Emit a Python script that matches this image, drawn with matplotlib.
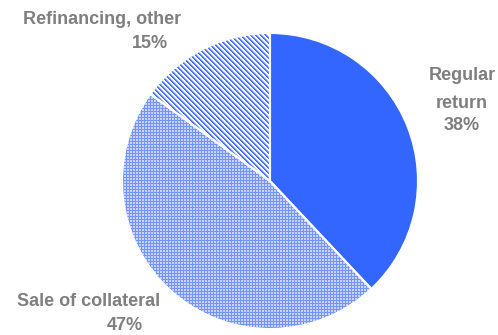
import matplotlib
matplotlib.use("Agg")
import matplotlib.pyplot as plt
import numpy as np
from matplotlib.colors import to_rgba

categories = ["Regular\nreturn", "Sale of collateral", "Refinancing, other"]
values = [38, 47, 15]
pct_labels = ["38%", "47%", "15%"]

plt.rcParams['font.family'] = ['Liberation Sans', 'DejaVu Sans']

W, H = 498, 335
fig = plt.figure(figsize=(W / 100, H / 100), dpi=100)
ax = fig.add_axes([0, 0, 1, 1])
ax.set_xlim(0, W)
ax.set_ylim(0, H)
ax.set_aspect('equal')
ax.axis('off')

cx, cy, r = 270, H - 181, 148

faces = ['#3366FF', '#A6B9FF', 'white']
wedges, _ = ax.pie(values, center=(cx, cy), radius=r, startangle=90, counterclock=False,
                   colors=faces, wedgeprops=dict(edgecolor='none', linewidth=0), frame=True)

# pixel textures
rr, cc = np.mgrid[0:H, 0:W]
# dotted grid for "Sale of collateral"
grid = np.zeros((H, W, 4))
line_c = np.array(to_rgba('#7394FF'))
fill_c = np.array(to_rgba('#C8D3FF'))
mask_line = (rr % 3 == 0) | (cc % 3 == 0)
grid[mask_line] = line_c
grid[~mask_line] = fill_c
im1 = ax.imshow(grid, extent=(0, W, 0, H), origin='upper', interpolation='nearest', zorder=2)
im1.set_clip_path(wedges[1])

# diagonal stripes for "Refinancing, other"
stripes = np.zeros((H, W, 4))
k = (cc - rr) % 5
stripes[:] = to_rgba('white')
stripes[k == 0] = to_rgba('#3F6EFF')
stripes[k == 1] = to_rgba('#5A82FF')
stripes[k == 2] = to_rgba('#B8C8FF')
im2 = ax.imshow(stripes, extent=(0, W, 0, H), origin='upper', interpolation='nearest', zorder=2)
im2.set_clip_path(wedges[2])

bw, _ = ax.pie(values, center=(cx, cy), radius=r, startangle=90, counterclock=False,
               colors=['none'] * 3, wedgeprops=dict(edgecolor='white', linewidth=1.5, zorder=3),
               frame=True)
for w in bw:
    w.set_facecolor('none')

ax.set_xlim(0, W)
ax.set_ylim(0, H)
ax.axis('off')

tc = '#7F7F7F'
fs = 13
def T(x, y, s):
    ax.text(x, H - y, s, ha='center', va='center', fontsize=fs, fontweight='bold', color=tc, zorder=4)

T(462, 76, "Regular")
T(462, 103, "return")
T(462, 126, pct_labels[0])
T(102, 19, categories[2])
T(150, 43, pct_labels[2])
T(89, 302, categories[1])
T(125, 326, pct_labels[1])

fig.savefig('out.png', dpi=100)
